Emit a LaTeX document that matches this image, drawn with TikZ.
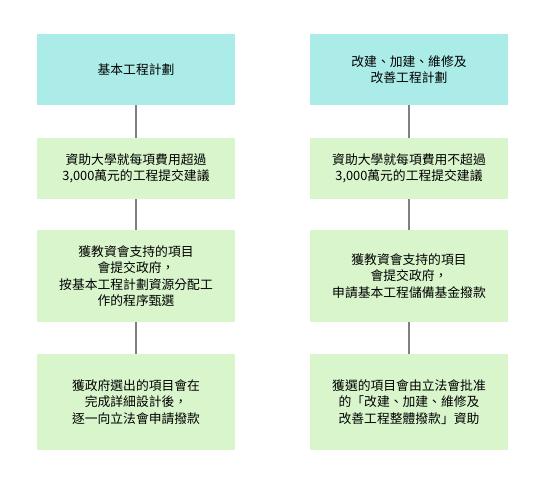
\documentclass[tikz,border=0pt]{standalone}
\usepackage{fontspec}
\setmainfont{Noto Sans CJK TC}
\begin{document}
\begin{tikzpicture}[x=0.75pt,y=-0.75pt,
  topbox/.style={fill={rgb,255:red,171;green,236;blue,232}, draw=none},
  stagebox/.style={fill={rgb,255:red,216;green,245;blue,204}, draw=none},
  boxtext/.style={align=center, font=\fontsize{9.6}{12.4}\selectfont},
  link/.style={draw={rgb,255:red,128;green,128;blue,128}, line width=1.5pt}]
\useasboundingbox (0,0) rectangle (545,480);
% left column
\path[topbox]   (37,34)  rectangle (235,105);
\path[stagebox] (37,138) rectangle (235,199);
\path[stagebox] (37,230) rectangle (235,322);
\path[stagebox] (37,354) rectangle (235,450);
\node[boxtext] (l1) at (136,69.5) {基本工程計劃};
\node[boxtext] (l2) at (136,168.5) {資助大學就每項費用超過\\3,000萬元的工程提交建議};
\node[boxtext] (l3) at (136,276) {獲教資會支持的項目\\會提交政府，\\按基本工程計劃資源分配工\\作的程序甄選};
\node[boxtext] (l4) at (136,402) {獲政府選出的項目會在\\完成詳細設計後，\\逐一向立法會申請撥款};
\coordinate (l1b) at (136,105); \coordinate (l2t) at (136,138);
\coordinate (l2b) at (136,199); \coordinate (l3t) at (136,230);
\coordinate (l3b) at (136,322); \coordinate (l4t) at (136,354);
\draw[link] (l1b) -- (l2t);
\draw[link] (l2b) -- (l3t);
\draw[link] (l3b) -- (l4t);
% right column
\path[topbox]   (310,34)  rectangle (508,105);
\path[stagebox] (310,138) rectangle (508,199);
\path[stagebox] (310,230) rectangle (508,322);
\path[stagebox] (310,354) rectangle (508,450);
\node[boxtext] (r1) at (409,69.5) {改建、加建、維修及\\改善工程計劃};
\node[boxtext] (r2) at (409,168.5) {資助大學就每項費用不超過\\3,000萬元的工程提交建議};
\node[boxtext] (r3) at (409,276) {獲教資會支持的項目\\會提交政府，\\申請基本工程儲備基金撥款};
\node[boxtext] (r4) at (409,402) {獲選的項目會由立法會批准\\的「改建、加建、維修及\\改善工程整體撥款」資助};
\coordinate (r1b) at (409,105); \coordinate (r2t) at (409,138);
\coordinate (r2b) at (409,199); \coordinate (r3t) at (409,230);
\coordinate (r3b) at (409,322); \coordinate (r4t) at (409,354);
\draw[link] (r1b) -- (r2t);
\draw[link] (r2b) -- (r3t);
\draw[link] (r3b) -- (r4t);
\end{tikzpicture}
\end{document}
